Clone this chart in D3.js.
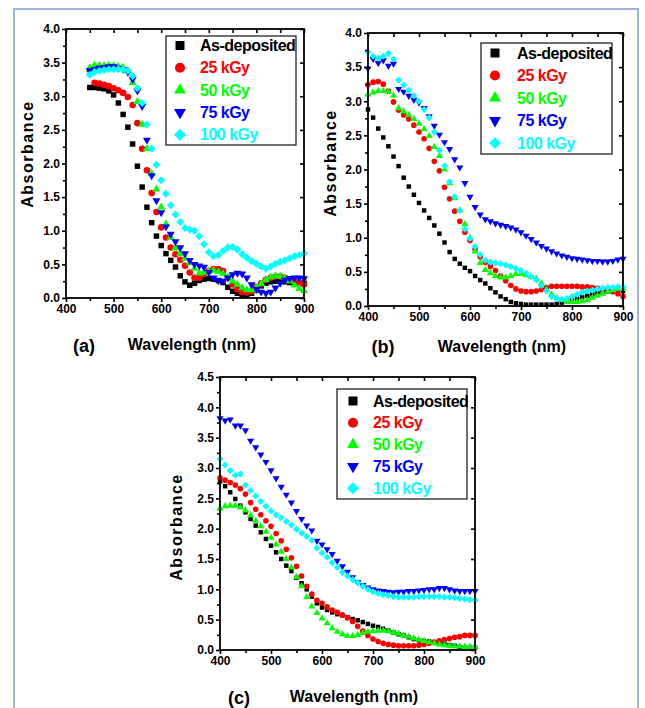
<!DOCTYPE html>
<html>
<head>
<meta charset="utf-8">
<script src="https://cdn.jsdelivr.net/npm/d3@7"></script>
<style>
  body { margin: 0; background: #fff; }
  svg text { font-family: "Liberation Sans", Arial, sans-serif; font-weight: bold; }
</style>
</head>
<body>
<svg id="fig" width="645" height="708"></svg>
<script>
// ---- data ----
const seriesNames = ["As-deposited", "25 kGy", "50 kGy", "75 kGy", "100 kGy"];
const seriesColors = ["#000000", "#ff0000", "#00ff00", "#0000ff", "#00ffff"];

const xTicks = [400, 500, 600, 700, 800, 900];
const yTicksAB = [0.0, 0.5, 1.0, 1.5, 2.0, 2.5, 3.0, 3.5, 4.0];
const yTicksC = [0.0, 0.5, 1.0, 1.5, 2.0, 2.5, 3.0, 3.5, 4.0, 4.5];

const waveA = [450,460,470,480,490,500,510,520,530,540,550,560,570,580,590,600,610,620,630,640,
  650,660,670,680,690,700,710,720,730,740,750,760,770,780,790,800,810,820,830,840,850,860,870,880,890,900];
const waveBC = [400,410,420,430,440,450,460,470,480,490,500,510,520,530,540,550,560,570,580,590,600,
  610,620,630,640,650,660,670,680,690,700,710,720,730,740,750,760,770,780,790,800,
  810,820,830,840,850,860,870,880,890,900];

// panel (a)
const aAsDep = [3.13,3.13,3.12,3.11,3.08,3.02,2.90,2.73,2.54,2.29,1.96,1.65,1.35,1.12,0.92,0.78,0.66,0.56,0.46,0.33,
  0.24,0.19,0.22,0.26,0.28,0.29,0.28,0.26,0.23,0.16,0.10,0.07,0.05,0.05,0.07,0.12,0.18,0.22,0.24,0.25,0.25,0.24,0.23,0.22,0.22,0.22];
const a25 = [3.39,3.20,3.19,3.17,3.15,3.12,3.09,3.05,2.99,2.87,2.60,2.22,1.90,1.56,1.28,1.05,0.90,0.75,0.65,0.57,
  0.48,0.38,0.30,0.30,0.36,0.40,0.43,0.43,0.40,0.30,0.20,0.13,0.09,0.08,0.10,0.16,0.22,0.27,0.30,0.32,0.32,0.30,0.28,0.25,0.22,0.20];
const a50 = [3.42,3.46,3.46,3.45,3.46,3.45,3.44,3.43,3.38,3.20,2.92,2.58,2.22,1.85,1.62,1.35,1.10,0.90,0.74,0.66,
  0.59,0.52,0.44,0.37,0.38,0.40,0.41,0.39,0.36,0.31,0.25,0.20,0.15,0.12,0.12,0.15,0.21,0.27,0.31,0.33,0.32,0.30,0.25,0.19,0.14,0.11];
const a75 = [3.38,3.40,3.42,3.43,3.44,3.44,3.42,3.40,3.36,3.25,3.08,2.85,2.35,1.82,1.45,1.27,1.06,0.95,0.84,0.75,
  0.66,0.56,0.50,0.48,0.46,0.38,0.30,0.26,0.25,0.30,0.35,0.37,0.36,0.30,0.20,0.13,0.09,0.07,0.09,0.15,0.22,0.27,0.29,0.30,0.30,0.29];
const a100 = [3.32,3.36,3.38,3.39,3.40,3.40,3.40,3.40,3.38,3.30,3.12,2.90,2.58,2.22,1.98,1.75,1.55,1.38,1.24,1.13,
  1.04,1.02,1.00,0.92,0.80,0.68,0.62,0.64,0.70,0.75,0.76,0.72,0.65,0.60,0.55,0.51,0.47,0.44,0.47,0.51,0.54,0.56,0.59,0.62,0.64,0.66];

// panel (b)
const bAsDep = [2.88,2.76,2.60,2.47,2.34,2.19,2.05,1.88,1.75,1.63,1.51,1.40,1.29,1.18,1.06,0.93,0.79,0.69,0.62,0.56,
  0.51,0.44,0.38,0.33,0.26,0.20,0.14,0.10,0.06,0.04,0.03,0.02,0.02,0.02,0.02,0.02,0.02,0.03,0.05,0.07,
  0.09,0.11,0.13,0.15,0.17,0.19,0.20,0.21,0.22,0.22,0.22];
const b25 = [3.24,3.28,3.29,3.25,3.15,2.99,2.87,2.80,2.74,2.65,2.55,2.45,2.31,2.12,1.98,1.74,1.57,1.39,1.24,1.08,
  0.96,0.83,0.72,0.64,0.58,0.52,0.44,0.37,0.30,0.25,0.22,0.21,0.21,0.22,0.24,0.27,0.29,0.29,0.29,0.29,
  0.29,0.29,0.28,0.28,0.27,0.26,0.25,0.23,0.21,0.18,0.14];
const b50 = [3.10,3.13,3.15,3.15,3.14,3.08,2.90,2.85,2.80,2.74,2.67,2.59,2.49,2.33,2.20,2.00,1.80,1.58,1.40,1.20,
  1.00,0.80,0.63,0.53,0.48,0.44,0.42,0.42,0.44,0.47,0.47,0.45,0.43,0.40,0.33,0.24,0.17,0.12,0.09,0.07,
  0.06,0.06,0.07,0.09,0.12,0.15,0.18,0.21,0.23,0.25,0.25];
const b75 = [3.48,3.62,3.56,3.60,3.52,3.55,3.18,3.14,3.08,3.02,2.98,2.90,2.78,2.64,2.51,2.40,2.30,2.15,2.03,1.80,
  1.60,1.45,1.34,1.27,1.24,1.21,1.19,1.17,1.15,1.12,1.08,1.03,0.98,0.93,0.88,0.84,0.80,0.77,0.74,0.72,
  0.70,0.69,0.68,0.67,0.66,0.66,0.65,0.65,0.66,0.68,0.69];
const b100 = [3.72,3.66,3.63,3.66,3.70,3.62,3.31,3.24,3.16,3.08,3.00,2.88,2.76,2.55,2.28,2.05,1.82,1.60,1.40,1.13,
  0.99,0.87,0.75,0.67,0.64,0.63,0.62,0.60,0.58,0.55,0.52,0.48,0.43,0.38,0.30,0.22,0.14,0.11,0.10,0.11,
  0.14,0.17,0.20,0.22,0.23,0.25,0.26,0.27,0.27,0.28,0.28];

// panel (c)
const cAsDep = [2.78,2.70,2.60,2.49,2.38,2.27,2.16,2.05,1.94,1.83,1.72,1.61,1.50,1.39,1.30,1.19,1.10,1.00,0.88,0.77,
  0.70,0.66,0.62,0.59,0.57,0.54,0.51,0.49,0.46,0.43,0.40,0.38,0.35,0.32,0.29,0.26,0.24,0.21,0.18,0.16,
  0.15,0.14,0.13,0.11,0.10,0.08,0.07,0.05,0.04,0.04,0.04];
const c25 = [2.84,2.80,2.76,2.72,2.66,2.57,2.43,2.32,2.23,2.13,2.04,1.92,1.80,1.66,1.52,1.38,1.22,1.05,0.92,0.82,
  0.77,0.71,0.66,0.62,0.58,0.53,0.47,0.39,0.31,0.24,0.18,0.14,0.11,0.09,0.08,0.07,0.07,0.07,0.07,0.08,
  0.09,0.11,0.13,0.15,0.17,0.19,0.21,0.22,0.24,0.24,0.24];
const c50 = [2.33,2.37,2.38,2.38,2.35,2.30,2.22,2.13,2.04,1.95,1.85,1.74,1.62,1.50,1.36,1.20,1.05,0.87,0.72,0.61,
  0.52,0.44,0.36,0.30,0.26,0.23,0.23,0.25,0.28,0.30,0.31,0.32,0.32,0.31,0.29,0.27,0.24,0.22,0.19,0.17,
  0.15,0.13,0.11,0.09,0.08,0.07,0.06,0.06,0.05,0.05,0.05];
const c75 = [3.82,3.78,3.80,3.70,3.70,3.62,3.45,3.34,3.22,3.10,2.96,2.83,2.69,2.56,2.43,2.29,2.16,2.05,1.97,1.80,
  1.74,1.66,1.58,1.47,1.38,1.29,1.20,1.12,1.07,1.03,1.00,0.98,0.97,0.96,0.95,0.96,0.96,0.97,0.97,0.98,
  0.99,1.00,1.00,1.02,1.02,1.00,0.98,0.97,0.97,0.97,0.97];
const c100 = [3.15,3.05,2.96,2.88,2.90,2.72,2.63,2.54,2.45,2.37,2.29,2.23,2.18,2.12,2.06,1.99,1.93,1.87,1.81,1.68,
  1.60,1.53,1.44,1.36,1.28,1.22,1.16,1.11,1.05,1.00,0.96,0.93,0.91,0.90,0.88,0.87,0.87,0.87,0.87,0.88,
  0.88,0.88,0.88,0.88,0.87,0.87,0.86,0.85,0.84,0.83,0.82];

// ---- drawing ----
const svg = d3.select("svg#fig");
svg.append("rect").attr("width", 645).attr("height", 708).attr("fill", "#fff");
svg.append("rect")
  .attr("x", 14).attr("y", 9).attr("width", 624).attr("height", 730)
  .attr("fill", "none").attr("stroke", "#9db4da").attr("stroke-width", 2);

const symbolTypes = [d3.symbolSquare, d3.symbolCircle, d3.symbolTriangle, d3.symbolTriangle, d3.symbolSquare];
const symbolRotate = [0, 0, 0, 180, 45];
const legendSizes = [81, 80, 62, 62, 72];

const panels = [
  { tag: "(a)", wave: waveA, series: [aAsDep, a25, a50, a75, a100],
    left: 66, top: 29, width: 238, height: 269, yMax: 4, yTicks: yTicksAB,
    sizes: [30, 34, 28, 28, 32],
    legend: { x: 166, y: 36, w: 130, h: 109, mx: 180, tx: 200, y0: 45.5, dy: 22.3 },
    yLab: [27, 154], xLab: [192, 350], tagPos: [84, 352] },
  { tag: "(b)", wave: waveBC, series: [bAsDep, b25, b50, b75, b100],
    left: 368, top: 33, width: 255, height: 273, yMax: 4, yTicks: yTicksAB,
    sizes: [20, 25, 22, 22, 25],
    legend: { x: 481, y: 43, w: 131, h: 111, mx: 495, tx: 517, y0: 53, dy: 22.5 },
    yLab: [330, 163], xLab: [502, 352], tagPos: [383, 353] },
  { tag: "(c)", wave: waveBC, series: [cAsDep, c25, c50, c75, c100],
    left: 220, top: 377, width: 255, height: 273, yMax: 4.5, yTicks: yTicksC,
    sizes: [20, 25, 22, 22, 25],
    legend: { x: 337, y: 389, w: 130, h: 110, mx: 353, tx: 373, y0: 401, dy: 21.8 },
    yLab: [176, 527], xLab: [354, 702], tagPos: [239, 704] }
];

function styleAxis(a) {
  a.select(".domain").remove();
  a.selectAll(".tick line").attr("stroke", "#000").attr("stroke-width", 1.6);
  a.selectAll(".tick text").attr("fill", "#000").attr("font-size", 12)
    .attr("font-family", "Liberation Sans, Arial, sans-serif").attr("font-weight", "bold");
}

panels.forEach(p => {
  const x = d3.scaleLinear().domain([400, 900]).range([p.left, p.left + p.width]);
  const y = d3.scaleLinear().domain([0, p.yMax]).range([p.top + p.height, p.top]);
  const g = svg.append("g");

  const xMinor = xTicks.slice(0, -1).map(d => d + 50);
  const yMinor = p.yTicks.slice(0, -1).map(d => d + 0.25);

  // markers
  p.series.forEach((vals, i) => {
    const sym = d3.symbol().type(symbolTypes[i]).size(p.sizes[i]);
    g.append("g")
      .selectAll("path")
      .data(vals.map((v, j) => [p.wave[j], v]))
      .join("path")
      .attr("d", sym)
      .attr("transform", d => `translate(${x(d[0])},${y(d[1])}) rotate(${symbolRotate[i]})`)
      .attr("fill", seriesColors[i]);
  });

  // axes
  const bottom = p.top + p.height;
  g.append("g").attr("transform", `translate(0,${bottom})`)
    .call(d3.axisBottom(x).tickValues(xTicks).tickSize(4).tickPadding(2).tickFormat(d3.format("d")))
    .call(styleAxis);
  g.append("g").attr("transform", `translate(0,${bottom})`)
    .call(d3.axisBottom(x).tickValues(xMinor).tickSize(3).tickFormat(""))
    .call(styleAxis);
  g.append("g").attr("transform", `translate(${p.left},0)`)
    .call(d3.axisLeft(y).tickValues(p.yTicks).tickSize(4).tickPadding(2).tickFormat(d3.format(".1f")))
    .call(styleAxis);
  g.append("g").attr("transform", `translate(${p.left},0)`)
    .call(d3.axisLeft(y).tickValues(yMinor).tickSize(3).tickFormat(""))
    .call(styleAxis);
  g.append("g").attr("transform", `translate(0,${p.top})`)
    .call(d3.axisTop(x).tickValues(xTicks.concat(xMinor)).tickSize(-4).tickFormat(""))
    .call(styleAxis);
  g.append("g").attr("transform", `translate(${p.left + p.width},0)`)
    .call(d3.axisRight(y).tickValues(p.yTicks).tickSize(-4).tickFormat(""))
    .call(styleAxis);

  g.append("rect")
    .attr("x", p.left).attr("y", p.top).attr("width", p.width).attr("height", p.height)
    .attr("fill", "none").attr("stroke", "#000").attr("stroke-width", 1.8);

  // legend
  const L = p.legend;
  g.append("rect").attr("x", L.x).attr("y", L.y).attr("width", L.w).attr("height", L.h)
    .attr("fill", "#fff").attr("stroke", "#222").attr("stroke-width", 1.3);
  seriesNames.forEach((name, i) => {
    const ry = L.y0 + i * L.dy;
    g.append("path")
      .attr("d", d3.symbol().type(symbolTypes[i]).size(legendSizes[i]))
      .attr("transform", `translate(${L.mx},${ry}) rotate(${symbolRotate[i]})`)
      .attr("fill", seriesColors[i]);
    g.append("text")
      .attr("x", L.tx).attr("y", ry + 5.5)
      .attr("font-size", 16).attr("letter-spacing", "-0.5px")
      .attr("fill", seriesColors[i])
      .text(name);
  });

  // titles
  g.append("text")
    .attr("transform", `translate(${p.yLab[0]},${p.yLab[1]}) rotate(-90)`)
    .attr("text-anchor", "middle").attr("dominant-baseline", "central")
    .attr("font-size", 16).attr("letter-spacing", "1.5px")
    .text("Absorbance");
  g.append("text")
    .attr("x", p.xLab[0]).attr("y", p.xLab[1])
    .attr("text-anchor", "middle").attr("font-size", 16)
    .text("Wavelength (nm)");
  g.append("text")
    .attr("x", p.tagPos[0]).attr("y", p.tagPos[1])
    .attr("text-anchor", "middle").attr("font-size", 18)
    .text(p.tag);
});
</script>
</body>
</html>
